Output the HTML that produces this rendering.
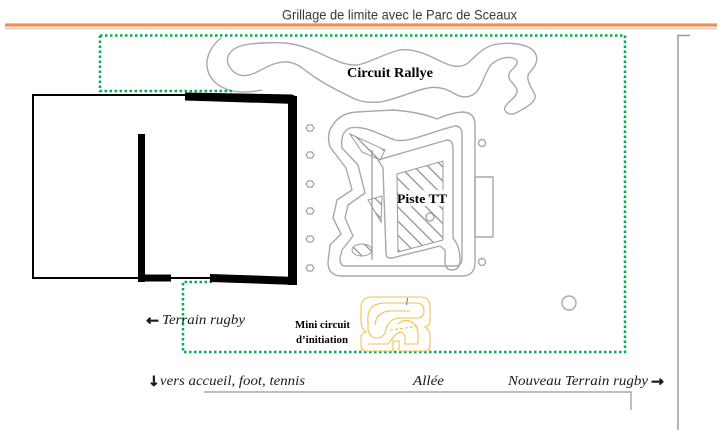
<!DOCTYPE html>
<html><head><meta charset="utf-8"><style>
html,body{margin:0;padding:0;background:#fff;width:720px;height:430px;overflow:hidden}
svg{display:block}
</style></head><body>
<svg width="720" height="430" viewBox="0 0 720 430" xmlns="http://www.w3.org/2000/svg">
<defs>
<pattern id="h" patternUnits="userSpaceOnUse" width="10" height="10" patternTransform="rotate(45)">
<line x1="0" y1="5" x2="10" y2="5" stroke="#8a8a8a" stroke-width="1.2"/>
</pattern>
</defs>
<rect width="720" height="430" fill="#fff"/>

<!-- title -->
<text x="282" y="19.5" font-family="Liberation Sans, sans-serif" font-size="14" fill="#3a3a3a" textLength="235" lengthAdjust="spacingAndGlyphs">Grillage de limite avec le Parc de Sceaux</text>
<line x1="5" y1="28.5" x2="717" y2="28.5" stroke="#d4d4d4" stroke-width="2"/>
<line x1="5" y1="25" x2="717" y2="25" stroke="#f0914a" stroke-width="3.2"/>

<!-- right vertical line -->
<path d="M690,35.5 H678 V430" fill="none" stroke="#9c9c9c" stroke-width="1.5"/>

<!-- rally circuit -->
<g fill="none" stroke="#a8a8a8" stroke-width="1.4" stroke-linejoin="round">
<path d="M228,56 C232,48 240,44 262,43 C280,42 295,42 317,52 C330,58 345,66 357,65 C370,63 385,53 400,50 C415,48 430,56 440,61 C450,66 460,69 468,63 C475,57 482,48 493,45 C505,42 522,43 530,48 C538,53 540,62 530,72 C524,78 532,88 535,95 C537,102 525,108 516,113 C510,116 503,112 505,107 C508,101 518,97 517,90 C516,84 505,80 510,72 C515,66 522,62 513,58 C505,56 495,60 490,66 C484,75 482,88 474,94 C468,98 462,98 455,94 C447,89 438,86 428,88 C415,90 395,100 380,102 C370,103 362,102 355,99 C340,92 325,84 313,76 C303,69 298,63 287,62 C276,61 265,68 255,73 C248,76 240,77 234,72 C229,68 226,62 228,56 Z"/>
<path d="M221,38 C212,45 206,56 207,66 C208,78 217,87 232,91 C242,93 252,92 262,90"/>
<!-- piste TT outer -->
<path d="M333,125 Q340,113 357,112 L393,110 Q420,112 437,119 Q450,113 462,112 Q475,112 475,125 L475,262 Q475,276 462,276 L342,276 Q328,276 328,262 L330,245 L341,234 L333,218 L337,200 L352,190 L346,168 L330,147 Q326,133 333,125 Z"/>
<!-- piste TT inner -->
<path d="M350,128 C365,125 380,135 395,140 C410,143 430,132 455,126 Q462,126 462,134 L462,258 Q462,266 455,266 L345,266 Q340,266 340,258 L342,250 L353,236 L345,218 L348,205 L365,193 L358,165 L342,148 Q340,132 350,128 Z"/>
<!-- island -->
<path d="M378,160 L447,140 Q453,140 453,148 L453,238 Q460,246 460,260 Q460,270 452,270 Q445,270 445,261 L445,250 L440,246 L392,258 Q386,259 386,253 L383,168 Z"/>
<path d="M372,150 L372,260" />
<rect x="475" y="177" width="18" height="60"/>
<circle cx="482" cy="143" r="3.5"/>
<circle cx="482" cy="262" r="3.5"/>
<circle cx="430" cy="217" r="4"/>
<circle cx="569" cy="303" r="7"/>
</g>
<!-- hatched areas -->
<g stroke="#9a9a9a" stroke-width="1">
<polygon points="397,174 443,161 443,240 398,252" fill="url(#h)"/>
<polygon points="350,134 385,150 380,160 362,152" fill="url(#h)"/>
<polygon points="368,200 382,196 381,222" fill="url(#h)"/>
<ellipse cx="362" cy="250" rx="10" ry="6" fill="url(#h)"/>
</g>
<rect x="398" y="190" width="46" height="16" fill="#fff" opacity="0.85"/>

<!-- small hex markers -->
<g fill="none" stroke="#a0a0a0" stroke-width="1.2">
<polygon points="306,128 308,125 312,125 314,128 312,131 308,131"/>
<polygon points="306,155 308,152 312,152 314,155 312,158 308,158"/>
<polygon points="306,184 308,181 312,181 314,184 312,187 308,187"/>
<polygon points="306,211 308,208 312,208 314,211 312,214 308,214"/>
<polygon points="306,239 308,236 312,236 314,239 312,242 308,242"/>
<polygon points="306,268 308,265 312,265 314,268 312,271 308,271"/>
</g>

<!-- green dotted boundary -->
<g fill="none" stroke="#00b050" stroke-width="2.5" stroke-dasharray="2.5 2.5">
<path d="M100,35.5 H625 V352 H183 V282 H212"/>
<path d="M100,35.5 V91 H232"/>
</g>

<!-- building -->
<path d="M186,95 H33 V278 H212" fill="none" stroke="#000" stroke-width="2"/>
<polygon points="185,92.5 292,94.5 296.5,96.5 296.5,104 185,100.5" fill="#000"/>
<rect x="288" y="96" width="9" height="189" fill="#000"/>
<polygon points="210,274 296.5,277 296.5,285 210,282" fill="#000"/>
<rect x="138" y="134" width="7" height="148" fill="#000"/>
<rect x="138" y="274.5" width="33" height="7" fill="#000"/>

<!-- mini circuit -->
<g fill="none" stroke="#f2c14e" stroke-width="1.1">
<path d="M372,297 L420,297 Q430,297 430,307 L430,320 Q430,326 425,327 Q430,330 430,336 L430,346 Q430,351 425,351 L399,351 L399,341 L393,341 L393,351 L366,351 Q361,351 361,346 L361,338 Q361,333 366,332 Q361,329 361,320 L361,308 Q361,297 372,297 Z"/>
<path d="M368,322 Q366,304 384,303 L416,303 Q424,303 424,311 Q424,318 417,318 L398,318 Q388,320 386,330 Q384,338 377,338 Q370,338 368,330 Z"/>
<path d="M375,325 Q376,312 390,311 L410,311 M398,324 Q404,318 412,322 Q418,326 418,334 L418,344 L405,344 L405,336 Q402,330 396,334 L388,344 L368,344"/>
<path d="M390,330 L420,326" stroke-dasharray="3 2"/>
</g>
<line x1="407.5" y1="298" x2="406.5" y2="305" stroke="#4a78c8" stroke-width="1"/>

<!-- labels -->
<g font-family="Liberation Serif, serif" fill="#000">
<text x="347" y="77" font-size="14" font-weight="bold" textLength="86" lengthAdjust="spacingAndGlyphs">Circuit Rallye</text>
<text x="397" y="203" font-size="12.5" font-weight="bold" textLength="50" lengthAdjust="spacingAndGlyphs">Piste TT</text>
<text x="295" y="328" font-size="11" font-weight="bold" textLength="55" lengthAdjust="spacingAndGlyphs">Mini circuit</text>
<text x="296" y="343" font-size="11" font-weight="bold" textLength="52" lengthAdjust="spacingAndGlyphs">d’initiation</text>
</g>
<g font-family="Liberation Serif, serif" font-style="italic" fill="#1a1a1a" font-size="14">
<text x="146" y="325" font-style="normal" font-weight="bold" font-family="DejaVu Sans, sans-serif" font-size="14" stroke="#1a1a1a" stroke-width="0.5" textLength="13" lengthAdjust="spacingAndGlyphs">←</text>
<text x="162" y="324" textLength="83" lengthAdjust="spacingAndGlyphs">Terrain rugby</text>
<text x="148" y="386" font-style="normal" font-weight="bold" font-family="DejaVu Sans, sans-serif" font-size="14" stroke="#1a1a1a" stroke-width="0.5">↓</text>
<text x="160" y="385" textLength="145" lengthAdjust="spacingAndGlyphs">vers accueil, foot, tennis</text>
<text x="413" y="385" textLength="31" lengthAdjust="spacingAndGlyphs">Allée</text>
<text x="508" y="385" textLength="140" lengthAdjust="spacingAndGlyphs">Nouveau Terrain rugby</text>
<text x="651" y="386" font-style="normal" font-weight="bold" font-family="DejaVu Sans, sans-serif" font-size="14" stroke="#1a1a1a" stroke-width="0.5" textLength="13" lengthAdjust="spacingAndGlyphs">→</text>
</g>

<!-- bottom line -->
<path d="M204,392 H631 V410" fill="none" stroke="#a8a8a8" stroke-width="1.5"/>
</svg>
</body></html>
